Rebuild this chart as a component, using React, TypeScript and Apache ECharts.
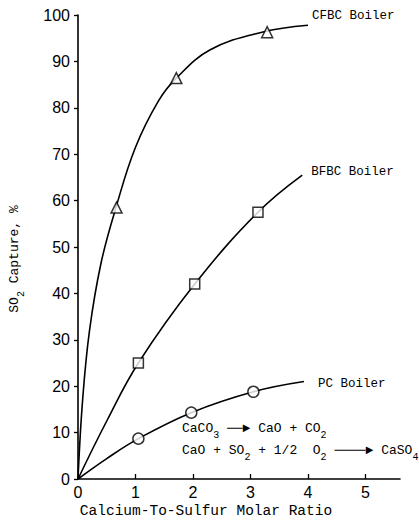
import React, { useEffect, useRef } from "react";
import * as echarts from "echarts";

const xTicks = [0, 1, 2, 3, 4, 5];
const yTicks = [0, 10, 20, 30, 40, 50, 60, 70, 80, 90, 100];

// smooth fitted curves
const cfbcCurve = [
  [0, 0], [0.08, 17], [0.2, 32], [0.4, 46.5], [0.66, 58.5],
  [1.0, 71.5], [1.4, 81.5], [1.71, 86.4], [2.3, 92.5], [3.2, 96.3], [4.0, 97.8],
];
const bfbcCurve = [
  [0, 0], [0.5, 12.5], [1.05, 25], [2.03, 42], [3.13, 57.5], [3.9, 65.5],
];
const pcCurve = [
  [0, 0], [0.5, 4.4], [1.05, 8.7], [1.97, 14.3], [3.05, 18.8], [3.93, 21],
];

// measured points
const cfbcPoints = [[0.67, 58.5], [1.71, 86.4], [3.29, 96.3]];
const bfbcPoints = [[1.05, 25], [2.03, 42], [3.13, 57.5]];
const pcPoints = [[1.05, 8.7], [1.97, 14.3], [3.05, 18.8]];

const seriesNames = ["CFBC Boiler", "BFBC Boiler", "PC Boiler"];

const MONO = "'Liberation Mono', 'DejaVu Sans Mono', monospace";
const SANS = "'Liberation Sans', Arial, sans-serif";

export default function App() {
  const ref = useRef<HTMLDivElement>(null);
  useEffect(() => {
    if (!ref.current) return;
    const chart = echarts.init(ref.current, undefined, { renderer: "svg" });
    const lineCommon = {
      type: "line" as const,
      smooth: 0.4,
      showSymbol: false,
      symbol: "none",
      lineStyle: { color: "#000", width: 1.6 },
      silent: true,
    };
    const endLabel = (name: string, offset: number[]) => ({
      show: true,
      formatter: name,
      offset,
      fontFamily: MONO,
      fontSize: 12.5,
      color: "#000",
    });
    const scatterCommon = (symbol: string, size: number) => ({
      type: "scatter" as const,
      symbol,
      symbolSize: size,
      itemStyle: { color: "#fff", borderColor: "#000", borderWidth: 1.5 },
      silent: true,
      z: 5,
    });
    const sub = { fontSize: 10, fontFamily: MONO, color: "#000", padding: [14, 0, 0, 0] };
    chart.setOption({
      animation: false,
      backgroundColor: "#fff",
      grid: { left: 78, top: 15, width: 322, height: 464, containLabel: false },
      xAxis: {
        type: "value",
        min: 0,
        max: 5.6,
        interval: 1,
        splitLine: { show: false },
        axisLine: { lineStyle: { color: "#000", width: 1.6 } },
        axisTick: { inside: true, length: 5, lineStyle: { color: "#000", width: 1.3 }, customValues: xTicks },
        axisLabel: { customValues: xTicks, color: "#000", fontFamily: SANS, fontSize: 16, margin: 5 },
      },
      yAxis: {
        type: "value",
        min: 0,
        max: 100,
        interval: 10,
        splitLine: { show: false },
        axisLine: { show: true, lineStyle: { color: "#000", width: 1.6 } },
        axisTick: { show: true, length: 4, lineStyle: { color: "#000", width: 1.3 }, customValues: yTicks },
        axisLabel: { customValues: yTicks, color: "#000", fontFamily: SANS, fontSize: 16, margin: 8 },
      },
      graphic: [
        {
          type: "text",
          x: 14,
          y: 259,
          rotation: Math.PI / 2,
          style: {
            text: "SO{s|2} Capture, %",
            fontFamily: MONO,
            fontSize: 13,
            fill: "#000",
            align: "center",
            verticalAlign: "middle",
            rich: { s: sub },
          },
        },
        {
          type: "text",
          x: 206,
          y: 511,
          style: {
            text: "Calcium-To-Sulfur Molar Ratio",
            fontFamily: MONO,
            fontSize: 14.5,
            fill: "#000",
            align: "center",
            verticalAlign: "middle",
          },
        },
        {
          type: "text",
          x: 182,
          y: 428,
          style: {
            text: "CaCO{s|3} ──► CaO + CO{s|2}",
            fontFamily: MONO,
            fontSize: 13,
            fill: "#000",
            align: "left",
            verticalAlign: "middle",
            rich: { s: sub },
          },
        },
        {
          type: "text",
          x: 182,
          y: 450,
          style: {
            text: "CaO + SO{s|2} + 1/2  O{s|2} ────► CaSO{s|4}",
            fontFamily: MONO,
            fontSize: 13,
            fill: "#000",
            align: "left",
            verticalAlign: "middle",
            rich: { s: sub },
          },
        },
      ],
      series: [
        { ...lineCommon, name: seriesNames[0], data: cfbcCurve, endLabel: endLabel(seriesNames[0], [-4, -9]) },
        { ...lineCommon, name: seriesNames[1], data: bfbcCurve, endLabel: endLabel(seriesNames[1], [1, -3]) },
        { ...lineCommon, name: seriesNames[2], data: pcCurve, endLabel: endLabel(seriesNames[2], [6, 2]) },
        { ...scatterCommon("triangle", 11), data: cfbcPoints },
        { ...scatterCommon("rect", 10), data: bfbcPoints },
        { ...scatterCommon("circle", 11), data: pcPoints },
      ],
    });
    return () => chart.dispose();
  }, []);
  return (
    <div
      ref={ref}
      style={{ position: "fixed", left: 0, top: 0, width: 419, height: 521 }}
    />
  );
}
